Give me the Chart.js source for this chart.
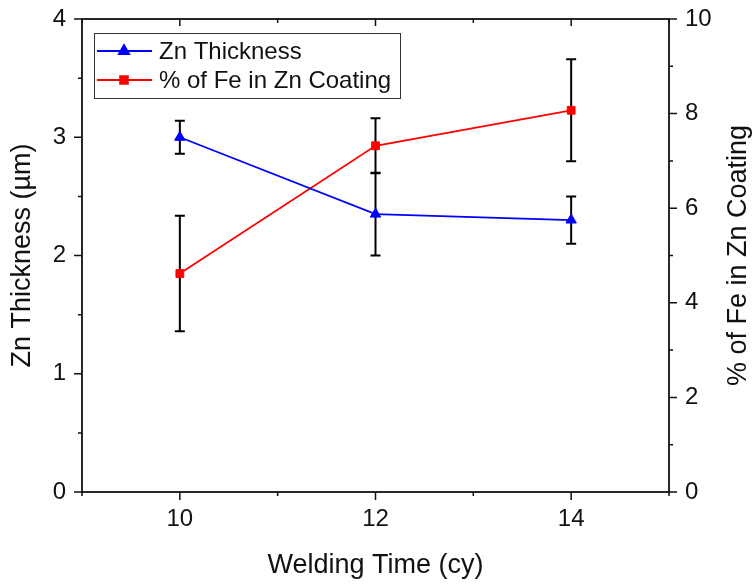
<!DOCTYPE html>
<html>
<head>
<meta charset="utf-8">
<title>Zn Thickness and % of Fe vs Welding Time</title>
<script src="https://cdn.jsdelivr.net/npm/chart.js@4.4.1/dist/chart.umd.min.js"></script>
<style>
  html, body { margin: 0; padding: 0; background: #fff; }
  #wrap { width: 754px; height: 584px; }
</style>
</head>
<body>
<div id="wrap"><canvas id="chart" width="754" height="584"></canvas></div>
<script>
// welding time (cycles) and the two measured series with their std deviations
const weldTimes = [10, 12, 14];
const znThickness = [3.0, 2.35, 2.3];
const znErr = [0.14, 0.35, 0.2];
const feContent = [4.62, 7.32, 8.07];
const feErr = [1.22, 0.58, 1.08];

// labelled ticks; the others are drawn as minor ticks
const xLabels = [10, 12, 14];
const leftLabels = [0, 1, 2, 3, 4];
const rightLabels = [0, 2, 4, 6, 8, 10];

const FONT = "'Liberation Sans', Arial, sans-serif";
const INK = '#111';
Chart.defaults.font.family = FONT;
Chart.defaults.color = INK;

const errorBars = {
  id: 'errorBars',
  beforeDatasetsDraw(chart) {
    const { ctx, scales } = chart;
    const draw = (vals, errs, scale) => {
      weldTimes.forEach((t, i) => {
        const x = scales.x.getPixelForValue(t);
        const yTop = scale.getPixelForValue(vals[i] + errs[i]);
        const yBot = scale.getPixelForValue(vals[i] - errs[i]);
        ctx.beginPath();
        ctx.moveTo(x, yTop); ctx.lineTo(x, yBot);
        ctx.moveTo(x - 5, yTop); ctx.lineTo(x + 5, yTop);
        ctx.moveTo(x - 5, yBot); ctx.lineTo(x + 5, yBot);
        ctx.stroke();
      });
    };
    ctx.save();
    ctx.strokeStyle = '#000';
    ctx.lineWidth = 2;
    draw(znThickness, znErr, scales.y);
    draw(feContent, feErr, scales.y1);
    ctx.restore();
  }
};

// box frame plus major/minor tick marks on all four sides
const frameTicks = {
  id: 'frameTicks',
  afterDraw(chart) {
    const { ctx, chartArea: a, scales } = chart;
    ctx.save();
    ctx.strokeStyle = INK;
    ctx.lineWidth = 1.8;
    ctx.strokeRect(a.left, a.top, a.right - a.left, a.bottom - a.top);
    ctx.lineWidth = 1.5;
    ctx.beginPath();
    scales.x.ticks.forEach(t => {
      const px = scales.x.getPixelForValue(t.value);
      ctx.moveTo(px, a.bottom); ctx.lineTo(px, a.bottom + (t.label ? 8 : 4));
      ctx.moveTo(px, a.top); ctx.lineTo(px, a.top + (t.label ? 7 : 4));
    });
    scales.y.ticks.forEach(t => {
      const py = scales.y.getPixelForValue(t.value);
      ctx.moveTo(a.left, py); ctx.lineTo(a.left - (t.label ? 8 : 4), py);
    });
    scales.y1.ticks.forEach(t => {
      const py = scales.y1.getPixelForValue(t.value);
      ctx.moveTo(a.right, py); ctx.lineTo(a.right + (t.label ? 8 : 4), py);
    });
    ctx.stroke();
    ctx.restore();
  }
};

function marker(ctx, ds, x, y) {
  ctx.fillStyle = ds.backgroundColor;
  ctx.strokeStyle = ds.borderColor;
  Chart.helpers.drawPoint(ctx, {
    pointStyle: ds.pointStyle, radius: ds.pointRadius, rotation: 0, borderWidth: ds.pointBorderWidth
  }, x, y);
}

// framed legend inside the plot, top left
const boxLegend = {
  id: 'boxLegend',
  afterDraw(chart) {
    const { ctx, chartArea: a } = chart;
    const bx = a.left + 12, by = a.top + 14, bw = 306, bh = 65;
    ctx.save();
    ctx.fillStyle = '#fff';
    ctx.fillRect(bx, by, bw, bh);
    ctx.strokeStyle = '#333';
    ctx.lineWidth = 1;
    ctx.strokeRect(bx + 0.5, by + 0.5, bw, bh);
    chart.data.datasets.forEach((ds, i) => {
      const y = by + 18 + i * 29;
      ctx.strokeStyle = ds.borderColor;
      ctx.lineWidth = ds.borderWidth;
      ctx.beginPath();
      ctx.moveTo(bx + 3, y); ctx.lineTo(bx + 58, y);
      ctx.stroke();
      marker(ctx, ds, bx + 30, y);
      ctx.fillStyle = INK;
      ctx.font = `24px ${FONT}`;
      ctx.textBaseline = 'middle';
      ctx.textAlign = 'left';
      ctx.fillText(ds.label, bx + 65, y + 1);
    });
    ctx.restore();
  }
};

// right axis title reads bottom to top, like the left one
const rightTitle = {
  id: 'rightTitle',
  afterDraw(chart) {
    const { ctx, chartArea: a } = chart;
    ctx.save();
    ctx.translate(739, (a.top + a.bottom) / 2);
    ctx.rotate(-Math.PI / 2);
    ctx.fillStyle = INK;
    ctx.font = `27px ${FONT}`;
    ctx.textAlign = 'center';
    ctx.textBaseline = 'middle';
    ctx.fillText('% of Fe in Zn Coating', 0, 0);
    ctx.restore();
  }
};

const pick = list => v => (list.includes(v) ? String(v) : '');

// fixed box sizes so the plot area does not shift with label overflow
const fixBox = (w, h) => s => {
  if (w !== null) s.width = w;
  if (h !== null) s.height = h;
  s.paddingTop = 0; s.paddingBottom = 0;
  s.paddingLeft = 0; s.paddingRight = 0;
};

new Chart(document.getElementById('chart'), {
  type: 'line',
  data: {
    datasets: [
      {
        label: 'Zn Thickness',
        data: weldTimes.map((t, i) => ({ x: t, y: znThickness[i] })),
        yAxisID: 'y',
        borderColor: '#0000ff',
        backgroundColor: '#0000ff',
        borderWidth: 1.8,
        pointStyle: 'triangle',
        pointRadius: 6,
        pointBorderWidth: 1,
        tension: 0
      },
      {
        label: '% of Fe in Zn Coating',
        data: weldTimes.map((t, i) => ({ x: t, y: feContent[i] })),
        yAxisID: 'y1',
        borderColor: '#ff0000',
        backgroundColor: '#ff0000',
        borderWidth: 1.8,
        pointStyle: 'rect',
        pointRadius: 5.5,
        pointBorderWidth: 1,
        tension: 0
      }
    ]
  },
  options: {
    responsive: false,
    animation: false,
    layout: { padding: { top: 19, left: 0, right: 0, bottom: 0 } },
    plugins: { legend: { display: false }, tooltip: { enabled: false } },
    scales: {
      x: {
        type: 'linear', min: 9, max: 15,
        grid: { display: false, drawTicks: false },
        border: { display: false },
        ticks: { stepSize: 1, autoSkip: false, maxRotation: 0, padding: 13,
          font: { size: 24 }, callback: pick(xLabels) },
        title: { display: true, text: 'Welding Time (cy)', font: { size: 27 }, padding: { top: 0, bottom: 2 } },
        afterFit: fixBox(null, 92)
      },
      y: {
        position: 'left', min: 0, max: 4,
        grid: { display: false, drawTicks: false },
        border: { display: false },
        ticks: { stepSize: 0.5, autoSkip: false, padding: 16,
          font: { size: 24 }, callback: pick(leftLabels) },
        title: { display: true, text: 'Zn Thickness (µm)', font: { size: 27 }, padding: { top: 6, bottom: 0 } },
        afterFit: fixBox(82, null)
      },
      y1: {
        position: 'right', min: 0, max: 10,
        grid: { display: false, drawTicks: false },
        border: { display: false },
        ticks: { stepSize: 1, autoSkip: false, padding: 16,
          font: { size: 24 }, callback: pick(rightLabels) },
        afterFit: fixBox(85, null)
      }
    }
  },
  plugins: [errorBars, frameTicks, boxLegend, rightTitle]
});
</script>
</body>
</html>
